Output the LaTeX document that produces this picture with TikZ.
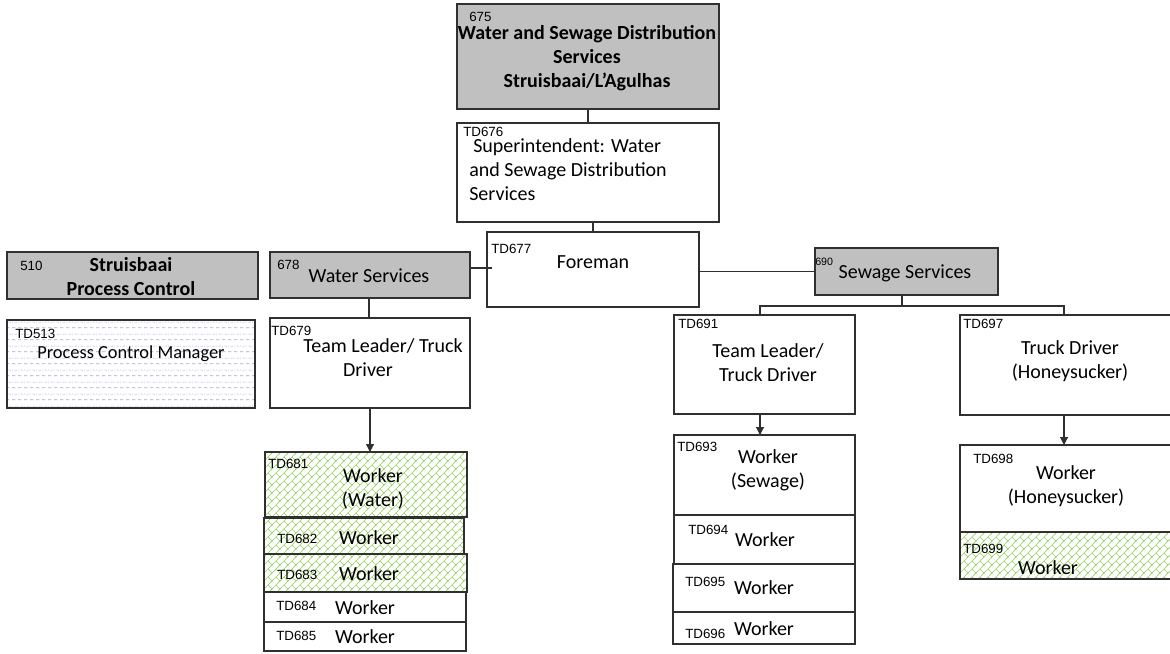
\documentclass[tikz,border=0pt]{standalone}
\usepackage{fontspec}
\setmainfont{Carlito}
\newfontfamily\codefont{Liberation Sans}
\usetikzlibrary{arrows.meta,patterns}

% light green diagonal brick hatching
\pgfdeclarepatternformonly{greenbrick}{\pgfqpoint{-1pt}{-1pt}}{\pgfqpoint{7pt}{7pt}}{\pgfqpoint{6pt}{6pt}}{%
  \pgfsetlinewidth{0.5pt}%
  \pgfpathmoveto{\pgfqpoint{-1pt}{-1pt}}\pgfpathlineto{\pgfqpoint{7pt}{7pt}}%
  \pgfpathmoveto{\pgfqpoint{3pt}{3pt}}\pgfpathlineto{\pgfqpoint{6pt}{0pt}}%
  \pgfusepath{stroke}}
% rows of short horizontal dashes
\pgfdeclarepatternformonly{dashrows}{\pgfqpoint{0pt}{0pt}}{\pgfqpoint{4.5pt}{9pt}}{\pgfqpoint{4.5pt}{9pt}}{%
  \pgfsetlinewidth{0.5pt}%
  \pgfpathmoveto{\pgfqpoint{0pt}{1pt}}\pgfpathlineto{\pgfqpoint{3pt}{1pt}}%
  \pgfpathmoveto{\pgfqpoint{2.25pt}{5.5pt}}\pgfpathlineto{\pgfqpoint{4.5pt}{5.5pt}}%
  \pgfpathmoveto{\pgfqpoint{0pt}{5.5pt}}\pgfpathlineto{\pgfqpoint{0.75pt}{5.5pt}}%
  \pgfusepath{stroke}}

\definecolor{unitgray}{HTML}{C0C0C0}
\definecolor{edge}{HTML}{303030}
\definecolor{hatchgreen}{HTML}{92D05A}
\definecolor{hatchlilac}{HTML}{B0A2D2}

% a rectangular box from its corners (x1,y1)-(x2,y2)
\newcommand\orgbox[6]{%
  \node[#6, minimum width={(#4-#2)*0.75pt}, minimum height={(#5-#3)*0.75pt}]
    (#1) at ({(#2+#4)/2},{(#3+#5)/2}) {};}

\tikzset{
  box/.style={draw=edge, line width=0.85pt, inner sep=0pt, outer sep=0pt, fill=white},
  unit/.style={box, fill=unitgray},
  vacant/.style={box, pattern=greenbrick, pattern color=hatchgreen},
  shared/.style={box, pattern=dashrows, pattern color=hatchlilac},
  code/.style={anchor=west, inner sep=0pt, font=\codefont\fontsize{10}{12}\selectfont},
  small code/.style={code, font=\codefont\fontsize{8}{10}\selectfont},
  txt/.style={inner sep=0pt, align=center, font=\fontsize{15}{18}\selectfont},
  title/.style={txt, font=\bfseries\fontsize{15}{18}\selectfont},
  link/.style={draw=edge, line width=0.85pt},
  arrowlink/.style={link, -{Triangle[length=6pt,width=6pt]}},
}

\begin{document}
\begin{tikzpicture}[x=0.75pt, y=-0.75pt]
\useasboundingbox (0,0) rectangle (1170,653);
\clip (0,0) rectangle (1170,653);

% ---- boxes ----
\orgbox{b675}{457}{4}{719}{109}{unit}
\orgbox{b676}{457}{123}{719}{222}{box}
\orgbox{b677}{487}{232}{699}{307}{box}
\orgbox{b678}{270}{252}{470}{298}{unit}
\orgbox{b690}{815}{248}{998}{295}{unit}
\orgbox{b510}{7}{252}{258}{299}{unit}
\orgbox{b513}{7}{320}{255}{408}{shared}
\orgbox{b679}{270}{318}{470}{408}{box}
\orgbox{b681}{265}{452}{467}{517}{vacant}
\orgbox{b682}{264}{518}{464}{554}{vacant}
\orgbox{b683}{264}{554}{467}{592}{vacant}
\orgbox{b684}{264}{592}{466}{622}{box}
\orgbox{b685}{264}{622}{466}{651}{box}
\orgbox{b691}{674}{315}{855}{414}{box}
\orgbox{b693}{674}{435}{855}{515}{box}
\orgbox{b694}{674}{515}{855}{564}{box}
\orgbox{b695}{673}{564}{855}{612}{box}
\orgbox{b696}{673}{612}{855}{644}{box}
\orgbox{b697}{960}{315}{1180}{415}{box}
\orgbox{b698}{960}{445}{1180}{532}{box}
\orgbox{b699}{960}{532}{1180}{579}{vacant}

% ---- connectors ----
\draw[link] (b675.south) -- (b676.north);
\draw[link] (b677.north) -- (b677.north |- b676.south);
\draw[link] (b678.east |- 0,268) -- ([xshift=4]b677.west |- 0,268);
\draw[link] (b677.east |- b690.west) -- (b690.west);
\coordinate (bus) at (902,306);
\draw[link] (b690.south -| bus) -- (bus);
\draw[link] (b691.north -| 760,0) |- (bus) -| (b697.north -| 1064,0);
\draw[link] (b678.south -| 369,0) -- (b679.north -| 369,0);
\draw[arrowlink] (b679.south -| 370,0) -- (b681.north -| 370,0);
\draw[arrowlink] (b691.south -| 760,0) -- (b693.north -| 760,0);
\draw[arrowlink] (b697.south -| 1064,0) -- (b698.north -| 1064,0);

% ---- texts ----
\node[code] (c675) at (469,17) {675};
\node[title] (t675) at (587,58) {Water and Sewage Distribution\\Services\\Struisbaai/L’Agulhas};

\node[code] (c676) at (463,132) {TD676};
\node[txt, align=left, anchor=west] (t676) at (469,170) {\hspace*{3pt}Superintendent: Water\\and Sewage Distribution\\Services};

\node[code] (c677) at (491,249) {TD677};
\node[txt] (t677) at (593,262) {Foreman};

\node[code] (c678) at (277,265) {678};
\node[txt] (t678) at (369,276) {Water Services};

\node[small code] (c690) at (815,262) {690};
\node[txt] (t690) at (905,273) {Sewage Services};

\node[code] (c510) at (20,266) {510};
\node[title] (t510) at (131,277) {Struisbaai\\Process Control};

\node[code] (c513) at (15,334) {TD513};
\node[txt, font=\fontsize{13.8}{16}\selectfont] (t513) at (131,354) {Process Control Manager};

\node[code] (c679) at (271,331) {TD679};
\node[txt] (t679a) at (383,346) {Team Leader/ Truck};
\node[txt] (t679b) at (368,370) {Driver};

\node[code] (c681) at (268,464) {TD681};
\node[txt] (t681) at (373,489) {Worker\\(Water)};
\node[code] (c682) at (277,539) {TD682};
\node[txt] (t682) at (369,538) {Worker};
\node[code] (c683) at (277,575) {TD683};
\node[txt] (t683) at (369,574) {Worker};
\node[code] (c684) at (276,606) {TD684};
\node[txt] (t684) at (365,608) {Worker};
\node[code] (c685) at (276,636) {TD685};
\node[txt] (t685) at (365,637) {Worker};

\node[code] (c691) at (678,324) {TD691};
\node[txt] (t691) at (768,363) {Team Leader/\\Truck Driver};
\node[code] (c693) at (677,447) {TD693};
\node[txt] (t693) at (768,470) {Worker\\(Sewage)};
\node[code] (c694) at (688,530) {TD694};
\node[txt] (t694) at (765,540) {Worker};
\node[code] (c695) at (685,582) {TD695};
\node[txt] (t695) at (764,588) {Worker};
\node[code] (c696) at (685,634) {TD696};
\node[txt] (t696) at (764,629) {Worker};

\node[code] (c697) at (963,324) {TD697};
\node[txt] (t697) at (1070,361) {Truck Driver\\(Honeysucker)};
\node[code] (c698) at (973,459) {TD698};
\node[txt] (t698) at (1066,486) {Worker\\(Honeysucker)};
\node[code] (c699) at (963,549) {TD699};
\node[txt] (t699) at (1048,568) {Worker};
\end{tikzpicture}
\end{document}
